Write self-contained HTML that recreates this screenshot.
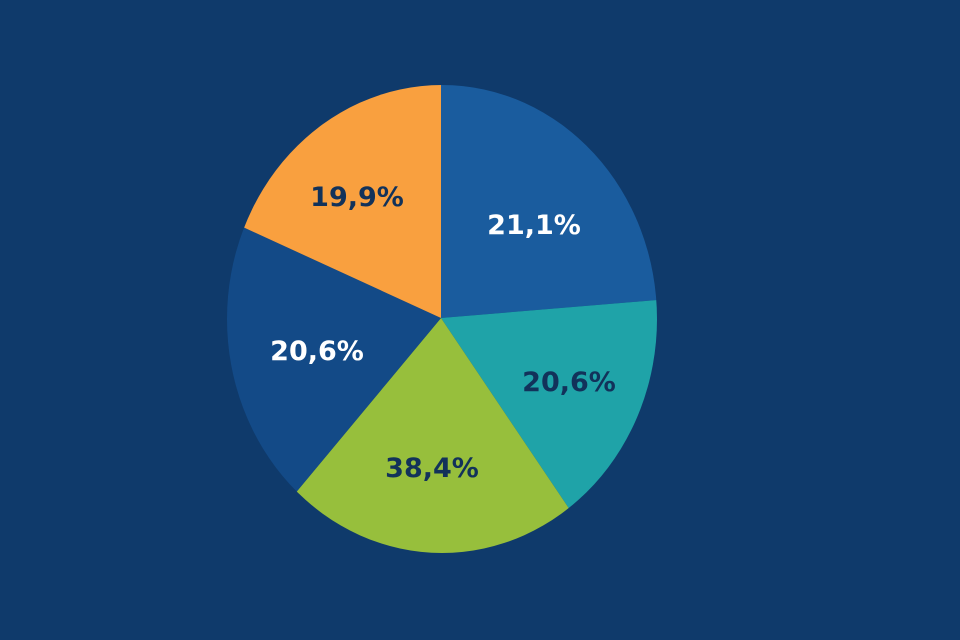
<!DOCTYPE html>
<html><head><style>html,body{margin:0;padding:0;background:#0f3a6b;width:960px;height:640px;overflow:hidden;}svg{display:block}</style></head>
<body>
<svg width="960" height="640" viewBox="0 0 960 640" xmlns="http://www.w3.org/2000/svg">
<rect width="960" height="640" fill="#0f3a6b"/>
<defs><clipPath id="c"><ellipse cx="442" cy="319" rx="215" ry="234"/></clipPath></defs>
<g clip-path="url(#c)">
<polygon points="441,318 441,-200 873,-200 873,282" fill="#1a5c9e"/>
<polygon points="441,318 873,282 873,696 695,696" fill="#1fa3a8"/>
<polygon points="441,318 695,696 155,662" fill="#97bf3c"/>
<polygon points="441,318 155,662 49,662 49,138" fill="#134a87"/>
<polygon points="441,318 49,138 49,-200 441,-200" fill="#f9a03f"/>
</g>
<g font-family="DejaVu Sans, sans-serif" font-size="27" font-weight="bold" text-anchor="middle">
<text x="534" y="234" fill="#ffffff">21,1%</text>
<text x="569" y="391" fill="#12325a">20,6%</text>
<text x="432" y="477" fill="#12325a">38,4%</text>
<text x="317" y="360" fill="#ffffff">20,6%</text>
<text x="357" y="206" fill="#12325a">19,9%</text>
</g>
</svg>
</body></html>
